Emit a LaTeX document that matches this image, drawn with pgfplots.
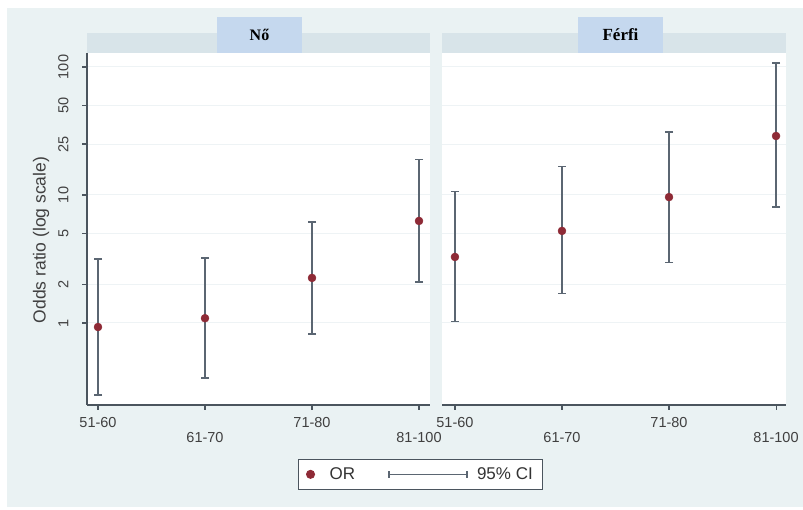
\documentclass[border=0pt]{standalone}
\usepackage{fontspec}
\setmainfont{Liberation Sans}
\newfontfamily\titlefont{Liberation Serif}
\usepackage{pgfplots}
\pgfplotsset{compat=1.18}
\usepackage{pgfplotstable}

\definecolor{bgc}{HTML}{EAF2F3}
\definecolor{stripc}{HTML}{D8E4E9}
\definecolor{titlec}{HTML}{C5D8EE}
\definecolor{axc}{HTML}{4B555E}
\definecolor{cic}{HTML}{5B6672}
\definecolor{ptc}{HTML}{8E2A36}
\definecolor{gridc}{HTML}{EEF3F5}

\pgfplotstableread{
x y
0 0.93
1 1.09
2 2.25
3 6.27
}\noOR
\pgfplotstableread{
x y
0 0.274
0 3.16
0 nan
1 0.372
1 3.22
1 nan
2 0.82
2 6.16
2 nan
3 2.09
3 18.8
}\noCI
\pgfplotstableread{
x y
0 3.28
1 5.24
2 9.63
3 28.9
}\ffOR
\pgfplotstableread{
x y
0 1.02
0 10.7
0 nan
1 1.71
1 16.6
1 nan
2 2.99
2 31.0
2 nan
3 8.07
3 107.6
}\ffCI

\pgfplotsset{every axis/.append style={
    scale only axis, height=352pt,
    ymin=0.2288, ymax=128.6,
    axis x line*=bottom, axis y line*=left,
    axis line style={axc, line width=1.3pt},
    tick align=outside, major tick length=5pt,
    tick style={axc, line width=1.1pt},
    ytick={1,2,5,10,25,50,100},
    ymajorgrids, grid style={gridc, line width=1pt},
    xtick={0,2}, xticklabels={51-60,71-80},
    xticklabel style={yshift=-4pt},
    extra x ticks={1,3}, extra x tick labels={61-70,81-100},
    extra x tick style={grid=none, xticklabel style={yshift=-15pt}},
    tick label style={font=\fontsize{14.5}{16}\selectfont, text=black!75},
    unbounded coords=jump,
    axis background/.style={fill=white},
}}

\begin{document}
\begin{tikzpicture}
\fill[white] (0pt,0pt) rectangle (803pt,510pt);
\fill[bgc] (7pt,3pt) rectangle (803pt,502pt);
\fill[stripc] (87pt,457pt) rectangle (430pt,477pt);
\fill[titlec] (217pt,457pt) rectangle (302pt,493pt);
\fill[stripc] (442pt,457pt) rectangle (786pt,477pt);
\fill[titlec] (578pt,457pt) rectangle (663pt,493pt);
\node[font=\titlefont\bfseries\fontsize{16}{18}\selectfont] at (259.5pt,475pt) {Nő};
\node[font=\titlefont\bfseries\fontsize{17}{18}\selectfont] at (620.5pt,475pt) {Férfi};
\node[rotate=90, font=\fontsize{17.5}{20}\selectfont, text=black!75] at (41pt,270pt) {Odds ratio (log scale)};

\begin{semilogyaxis}[at={(87pt,105pt)}, anchor=south west, width=343pt,
  xmin=-0.1028, xmax=3.1028,
  yticklabels={1,2,5,10,25,50,100},
  yticklabel style={rotate=90, anchor=south, yshift=10pt},
  legend columns=2,
  legend style={at={(axis description cs:0.972,-0.197)}, anchor=center,
    draw=axc, line width=1pt, fill=white, font=\fontsize{17}{20}\selectfont, text=black!80,
    inner xsep=8pt, inner ysep=6.5pt,
  },
]
\addplot[cic, line width=1.5pt, mark=-, mark size=4pt, mark options={solid, line width=1.2pt}, forget plot] table {\noCI};
\addplot[only marks, mark=*, mark size=4pt, ptc, mark options={fill=ptc, draw=ptc},
  legend image code/.code={\fill[ptc] (0pt,0pt) circle (4pt); \path[draw=none, fill=none] (-1pt,0pt) -- (17pt,0pt);}] table {\noOR};
\addlegendentry{OR}
\addlegendimage{cic, line width=1.5pt, legend image code/.code={
  \path[draw=none, fill=none] (-32pt,0pt) -- (86pt,0pt);
  \draw[cic, line width=1.5pt] (0pt,0pt) -- (78pt,0pt);
  \draw[cic, line width=1.5pt] (0pt,-3.5pt) -- (0pt,3.5pt);
  \draw[cic, line width=1.5pt] (78pt,-3.5pt) -- (78pt,3.5pt);}}
\addlegendentry{95\% CI\hspace{8pt}}
\end{semilogyaxis}

\begin{semilogyaxis}[at={(442pt,105pt)}, anchor=south west, width=344pt,
  xmin=-0.121, xmax=3.093,
  yticklabels={}, y axis line style={draw=none}, ytick style={draw=none},
]
\addplot[cic, line width=1.5pt, mark=-, mark size=4pt, mark options={solid, line width=1.2pt}] table {\ffCI};
\addplot[only marks, mark=*, mark size=4pt, ptc, mark options={fill=ptc, draw=ptc}] table {\ffOR};
\end{semilogyaxis}
\end{tikzpicture}
\end{document}
